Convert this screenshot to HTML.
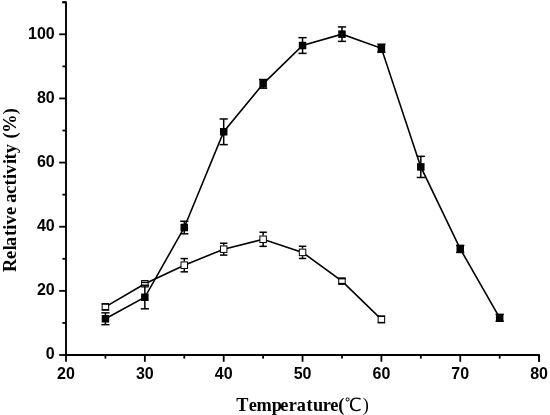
<!DOCTYPE html>
<html><head><meta charset="utf-8"><style>
html,body{margin:0;padding:0;background:#fff;width:550px;height:415px;overflow:hidden}
svg{display:block}
.t{font-family:"Liberation Sans",Arial,sans-serif;font-weight:bold;font-size:16px;fill:#000}
.deg{font-family:"WenQuanYi Zen Hei",sans-serif;font-weight:400}
.rp{font-weight:400}
.ti{font-family:"Liberation Serif","Noto Serif CJK SC","Noto Sans CJK SC",serif;font-weight:bold;font-size:18.5px;fill:#000}
</style></head><body>
<svg width="550" height="415" viewBox="0 0 550 415">
<polyline points="62.4,2.23 66.0,2.23 66.0,355.0 539.10,355.0 539.10,361.8" fill="none" stroke="#000" stroke-width="1.9" stroke-linejoin="round"/>
<line x1="59.2" y1="355.00" x2="66.0" y2="355.00" stroke="#000" stroke-width="1.8"/>
<line x1="62.4" y1="322.93" x2="66.0" y2="322.93" stroke="#000" stroke-width="1.8"/>
<line x1="59.2" y1="290.86" x2="66.0" y2="290.86" stroke="#000" stroke-width="1.8"/>
<line x1="62.4" y1="258.79" x2="66.0" y2="258.79" stroke="#000" stroke-width="1.8"/>
<line x1="59.2" y1="226.72" x2="66.0" y2="226.72" stroke="#000" stroke-width="1.8"/>
<line x1="62.4" y1="194.65" x2="66.0" y2="194.65" stroke="#000" stroke-width="1.8"/>
<line x1="59.2" y1="162.58" x2="66.0" y2="162.58" stroke="#000" stroke-width="1.8"/>
<line x1="62.4" y1="130.51" x2="66.0" y2="130.51" stroke="#000" stroke-width="1.8"/>
<line x1="59.2" y1="98.44" x2="66.0" y2="98.44" stroke="#000" stroke-width="1.8"/>
<line x1="62.4" y1="66.37" x2="66.0" y2="66.37" stroke="#000" stroke-width="1.8"/>
<line x1="59.2" y1="34.30" x2="66.0" y2="34.30" stroke="#000" stroke-width="1.8"/>
<line x1="62.4" y1="2.23" x2="66.0" y2="2.23" stroke="#000" stroke-width="1.8"/>
<line x1="66.00" y1="355.0" x2="66.00" y2="361.8" stroke="#000" stroke-width="1.8"/>
<line x1="105.42" y1="355.0" x2="105.42" y2="358.6" stroke="#000" stroke-width="1.8"/>
<line x1="144.85" y1="355.0" x2="144.85" y2="361.8" stroke="#000" stroke-width="1.8"/>
<line x1="184.27" y1="355.0" x2="184.27" y2="358.6" stroke="#000" stroke-width="1.8"/>
<line x1="223.70" y1="355.0" x2="223.70" y2="361.8" stroke="#000" stroke-width="1.8"/>
<line x1="263.12" y1="355.0" x2="263.12" y2="358.6" stroke="#000" stroke-width="1.8"/>
<line x1="302.55" y1="355.0" x2="302.55" y2="361.8" stroke="#000" stroke-width="1.8"/>
<line x1="341.97" y1="355.0" x2="341.97" y2="358.6" stroke="#000" stroke-width="1.8"/>
<line x1="381.40" y1="355.0" x2="381.40" y2="361.8" stroke="#000" stroke-width="1.8"/>
<line x1="420.82" y1="355.0" x2="420.82" y2="358.6" stroke="#000" stroke-width="1.8"/>
<line x1="460.25" y1="355.0" x2="460.25" y2="361.8" stroke="#000" stroke-width="1.8"/>
<line x1="499.68" y1="355.0" x2="499.68" y2="358.6" stroke="#000" stroke-width="1.8"/>
<line x1="539.10" y1="355.0" x2="539.10" y2="361.8" stroke="#000" stroke-width="1.8"/>
<text x="54.7" y="359.40" text-anchor="end" class="t">0</text>
<text x="54.7" y="295.26" text-anchor="end" class="t">20</text>
<text x="54.7" y="231.12" text-anchor="end" class="t">40</text>
<text x="54.7" y="166.98" text-anchor="end" class="t">60</text>
<text x="54.7" y="102.84" text-anchor="end" class="t">80</text>
<text x="54.7" y="38.70" text-anchor="end" class="t">100</text>
<text x="66.00" y="378.6" text-anchor="middle" class="t">20</text>
<text x="144.85" y="378.6" text-anchor="middle" class="t">30</text>
<text x="223.70" y="378.6" text-anchor="middle" class="t">40</text>
<text x="302.55" y="378.6" text-anchor="middle" class="t">50</text>
<text x="381.40" y="378.6" text-anchor="middle" class="t">60</text>
<text x="460.25" y="378.6" text-anchor="middle" class="t">70</text>
<text x="539.10" y="378.6" text-anchor="middle" class="t">80</text>
<text y="410.5" class="ti" style="font-size:18.3px;font-kerning:none"><tspan x="236.34 248.71 256.59 271.77 280.36 288.79 296.77 306.55 312.92 322.79 330.26 338.35">Temperature(</tspan><tspan class="deg" x="344.63">℃</tspan><tspan class="rp" x="362.71">)</tspan></text>
<text transform="translate(15.5,0) rotate(-90)" x="-271.89 -258.89 -250.16 -245.88 -235.95 -229.81 -224.52 -215.09 -206.97 -202.63 -193.65 -185.45 -178.91 -174.12 -163.91 -159.5 -153.17 -144.02 -138.55 -132.63 -114.34" class="ti" style="font-size:18.3px;font-kerning:none">Relative activity (%)</text>
<polyline points="105.42,306.89 144.85,283.80 184.27,265.20 223.70,249.17 263.12,239.29 302.55,252.38 341.97,281.14 381.40,319.40" fill="none" stroke="#000" stroke-width="1.6"/>
<line x1="184.27" y1="258.57" x2="184.27" y2="261.45" stroke="#000" stroke-width="1.5"/>
<line x1="184.27" y1="268.95" x2="184.27" y2="271.84" stroke="#000" stroke-width="1.5"/>
<line x1="223.70" y1="243.24" x2="223.70" y2="245.42" stroke="#000" stroke-width="1.5"/>
<line x1="223.70" y1="252.92" x2="223.70" y2="255.10" stroke="#000" stroke-width="1.5"/>
<line x1="263.12" y1="232.24" x2="263.12" y2="235.54" stroke="#000" stroke-width="1.5"/>
<line x1="263.12" y1="243.04" x2="263.12" y2="246.35" stroke="#000" stroke-width="1.5"/>
<line x1="302.55" y1="246.28" x2="302.55" y2="248.63" stroke="#000" stroke-width="1.5"/>
<line x1="302.55" y1="256.13" x2="302.55" y2="258.47" stroke="#000" stroke-width="1.5"/>
<rect x="102.17" y="303.64" width="6.50" height="6.50" fill="#fff" stroke="#000" stroke-width="1.0"/>
<rect x="141.60" y="280.55" width="6.50" height="6.50" fill="#fff" stroke="#000" stroke-width="1.0"/>
<rect x="181.02" y="261.95" width="6.50" height="6.50" fill="#fff" stroke="#000" stroke-width="1.0"/>
<rect x="220.45" y="245.92" width="6.50" height="6.50" fill="#fff" stroke="#000" stroke-width="1.0"/>
<rect x="259.88" y="236.04" width="6.50" height="6.50" fill="#fff" stroke="#000" stroke-width="1.0"/>
<rect x="299.30" y="249.13" width="6.50" height="6.50" fill="#fff" stroke="#000" stroke-width="1.0"/>
<rect x="338.72" y="277.89" width="6.50" height="6.50" fill="#fff" stroke="#000" stroke-width="1.0"/>
<rect x="378.15" y="316.15" width="6.50" height="6.50" fill="#fff" stroke="#000" stroke-width="1.0"/>
<line x1="101.72" y1="304.01" x2="109.12" y2="304.01" stroke="#000" stroke-width="1.5"/>
<line x1="101.72" y1="309.78" x2="109.12" y2="309.78" stroke="#000" stroke-width="1.5"/>
<line x1="141.15" y1="282.36" x2="148.55" y2="282.36" stroke="#000" stroke-width="1.5"/>
<line x1="141.15" y1="285.25" x2="148.55" y2="285.25" stroke="#000" stroke-width="1.5"/>
<line x1="180.57" y1="258.57" x2="187.97" y2="258.57" stroke="#000" stroke-width="1.5"/>
<line x1="180.57" y1="271.84" x2="187.97" y2="271.84" stroke="#000" stroke-width="1.5"/>
<line x1="220.00" y1="243.24" x2="227.40" y2="243.24" stroke="#000" stroke-width="1.5"/>
<line x1="220.00" y1="255.10" x2="227.40" y2="255.10" stroke="#000" stroke-width="1.5"/>
<line x1="259.43" y1="232.24" x2="266.82" y2="232.24" stroke="#000" stroke-width="1.5"/>
<line x1="259.43" y1="246.35" x2="266.82" y2="246.35" stroke="#000" stroke-width="1.5"/>
<line x1="298.85" y1="246.28" x2="306.25" y2="246.28" stroke="#000" stroke-width="1.5"/>
<line x1="298.85" y1="258.47" x2="306.25" y2="258.47" stroke="#000" stroke-width="1.5"/>
<line x1="338.27" y1="278.64" x2="345.67" y2="278.64" stroke="#000" stroke-width="1.5"/>
<line x1="338.27" y1="283.64" x2="345.67" y2="283.64" stroke="#000" stroke-width="1.5"/>
<line x1="377.70" y1="316.20" x2="385.10" y2="316.20" stroke="#000" stroke-width="1.5"/>
<line x1="377.70" y1="322.61" x2="385.10" y2="322.61" stroke="#000" stroke-width="1.5"/>
<polyline points="105.42,318.76 144.85,297.27 184.27,227.52 223.70,131.79 263.12,83.85 302.55,45.52 341.97,34.14 381.40,48.25 420.82,166.91 460.25,248.91 499.68,317.80" fill="none" stroke="#000" stroke-width="1.6"/>
<line x1="105.42" y1="312.86" x2="105.42" y2="324.66" stroke="#000" stroke-width="1.5"/>
<line x1="144.85" y1="285.73" x2="144.85" y2="308.82" stroke="#000" stroke-width="1.5"/>
<line x1="184.27" y1="221.24" x2="184.27" y2="233.81" stroke="#000" stroke-width="1.5"/>
<line x1="223.70" y1="118.96" x2="223.70" y2="144.62" stroke="#000" stroke-width="1.5"/>
<line x1="263.12" y1="79.52" x2="263.12" y2="88.18" stroke="#000" stroke-width="1.5"/>
<line x1="302.55" y1="37.67" x2="302.55" y2="53.38" stroke="#000" stroke-width="1.5"/>
<line x1="341.97" y1="26.92" x2="341.97" y2="41.36" stroke="#000" stroke-width="1.5"/>
<line x1="381.40" y1="44.24" x2="381.40" y2="52.26" stroke="#000" stroke-width="1.5"/>
<line x1="420.82" y1="156.33" x2="420.82" y2="177.49" stroke="#000" stroke-width="1.5"/>
<line x1="460.25" y1="245.38" x2="460.25" y2="252.44" stroke="#000" stroke-width="1.5"/>
<line x1="499.68" y1="314.34" x2="499.68" y2="321.26" stroke="#000" stroke-width="1.5"/>
<rect x="101.67" y="315.01" width="7.5" height="7.5" fill="#000"/>
<rect x="141.10" y="293.52" width="7.5" height="7.5" fill="#000"/>
<rect x="180.52" y="223.77" width="7.5" height="7.5" fill="#000"/>
<rect x="219.95" y="128.04" width="7.5" height="7.5" fill="#000"/>
<rect x="259.38" y="80.10" width="7.5" height="7.5" fill="#000"/>
<rect x="298.80" y="41.77" width="7.5" height="7.5" fill="#000"/>
<rect x="338.22" y="30.39" width="7.5" height="7.5" fill="#000"/>
<rect x="377.65" y="44.50" width="7.5" height="7.5" fill="#000"/>
<rect x="417.07" y="163.16" width="7.5" height="7.5" fill="#000"/>
<rect x="456.50" y="245.16" width="7.5" height="7.5" fill="#000"/>
<rect x="495.93" y="314.05" width="7.5" height="7.5" fill="#000"/>
<line x1="101.33" y1="312.86" x2="109.52" y2="312.86" stroke="#000" stroke-width="1.5"/>
<line x1="101.33" y1="324.66" x2="109.52" y2="324.66" stroke="#000" stroke-width="1.5"/>
<line x1="140.75" y1="285.73" x2="148.95" y2="285.73" stroke="#000" stroke-width="1.5"/>
<line x1="140.75" y1="308.82" x2="148.95" y2="308.82" stroke="#000" stroke-width="1.5"/>
<line x1="180.17" y1="221.24" x2="188.37" y2="221.24" stroke="#000" stroke-width="1.5"/>
<line x1="180.17" y1="233.81" x2="188.37" y2="233.81" stroke="#000" stroke-width="1.5"/>
<line x1="219.60" y1="118.96" x2="227.80" y2="118.96" stroke="#000" stroke-width="1.5"/>
<line x1="219.60" y1="144.62" x2="227.80" y2="144.62" stroke="#000" stroke-width="1.5"/>
<line x1="259.02" y1="79.52" x2="267.23" y2="79.52" stroke="#000" stroke-width="1.5"/>
<line x1="259.02" y1="88.18" x2="267.23" y2="88.18" stroke="#000" stroke-width="1.5"/>
<line x1="298.45" y1="37.67" x2="306.65" y2="37.67" stroke="#000" stroke-width="1.5"/>
<line x1="298.45" y1="53.38" x2="306.65" y2="53.38" stroke="#000" stroke-width="1.5"/>
<line x1="337.87" y1="26.92" x2="346.07" y2="26.92" stroke="#000" stroke-width="1.5"/>
<line x1="337.87" y1="41.36" x2="346.07" y2="41.36" stroke="#000" stroke-width="1.5"/>
<line x1="377.30" y1="44.24" x2="385.50" y2="44.24" stroke="#000" stroke-width="1.5"/>
<line x1="377.30" y1="52.26" x2="385.50" y2="52.26" stroke="#000" stroke-width="1.5"/>
<line x1="416.72" y1="156.33" x2="424.93" y2="156.33" stroke="#000" stroke-width="1.5"/>
<line x1="416.72" y1="177.49" x2="424.93" y2="177.49" stroke="#000" stroke-width="1.5"/>
<line x1="456.15" y1="245.38" x2="464.35" y2="245.38" stroke="#000" stroke-width="1.5"/>
<line x1="456.15" y1="252.44" x2="464.35" y2="252.44" stroke="#000" stroke-width="1.5"/>
<line x1="495.57" y1="314.34" x2="503.78" y2="314.34" stroke="#000" stroke-width="1.5"/>
<line x1="495.57" y1="321.26" x2="503.78" y2="321.26" stroke="#000" stroke-width="1.5"/>
</svg>
</body></html>
